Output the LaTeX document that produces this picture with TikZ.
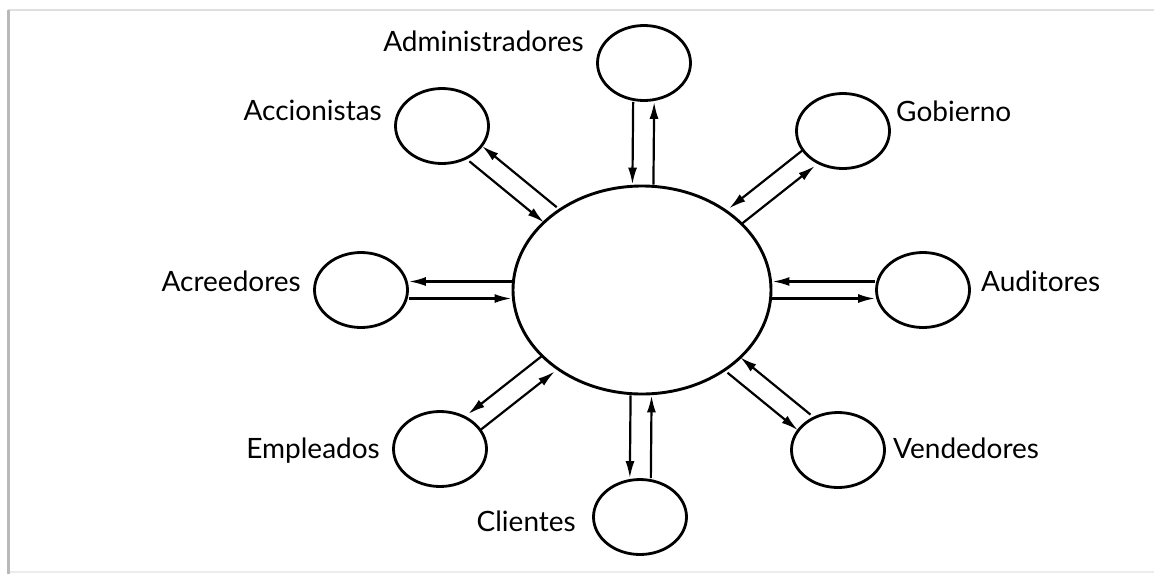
\documentclass[tikz,border=0pt]{standalone}
\usepackage{fontspec}
\setmainfont{Lato}
\usetikzlibrary{arrows.meta,shapes.geometric}
\begin{document}
\begin{tikzpicture}[x=1pt,y=-1pt,
  party/.style={ellipse,draw=black,line width=2.8pt,minimum width=93pt,minimum height=75pt,inner sep=0pt},
  hub/.style={ellipse,draw=black,line width=2.9pt,minimum width=258pt,minimum height=208pt,inner sep=0pt},
  lbl/.style={inner sep=0pt,font=\fontsize{28}{33}\selectfont,text=black},
  flow/.style={draw=black,line width=2.2pt,-{Latex[length=17pt,width=9pt]}}]
\useasboundingbox (0,0) rectangle (1154,574);
% frame
\draw[gray!25,line width=2.5pt] (8,10) -- (1154,10);
\draw[gray!15,line width=1.5pt] (8,572) -- (1154,572);
\draw[gray!55,line width=3pt] (8,10) -- (8,574);
% nodes
\node[hub] (C) at (642,290) {};
\node[party] (adm) at (644,63) {};
\node[party] (acc) at (442,126) {};
\node[party] (gob) at (843,131) {};
\node[party] (acr) at (361,290) {};
\node[party] (aud) at (923,290) {};
\node[party] (emp) at (440,449) {};
\node[party] (ven) at (838,450) {};
\node[party] (cli) at (640,517) {};
% labels
\node[lbl,anchor=base east] (tadm) at (584,51) {Administradores};
\node[lbl,anchor=base east] (tacc) at (382,120) {Accionistas};
\node[lbl,anchor=base west] (tgob) at (896,121) {Gobierno};
\node[lbl,anchor=base east] (tacr) at (301,291) {Acreedores};
\node[lbl,anchor=base west] (taud) at (981,291) {Auditores};
\node[lbl,anchor=base east] (temp) at (380,458) {Empleados};
\node[lbl,anchor=base west] (tven) at (893,458) {Vendedores};
\node[lbl,anchor=base east] (tcli) at (576,531) {Clientes};
% flows: inward (left side looking outward) and outward (right side)
\draw[flow,transform canvas={shift={(-10.5,0)}}] (adm) -- (C);
\draw[flow,transform canvas={shift={(10.5,0)}}] (C) -- (adm);
\draw[flow,transform canvas={shift={(-6.2,-7.8)}}] (gob) -- (C);
\draw[flow,transform canvas={shift={(6.2,7.8)}}] (C) -- (gob);
\draw[flow,transform canvas={shift={(0,-8.5)}}] (aud) -- (C);
\draw[flow,transform canvas={shift={(0,8.5)}}] (C) -- (aud);
\draw[flow,transform canvas={shift={(6.3,-7.8)}}] (ven) -- (C);
\draw[flow,transform canvas={shift={(-6.3,7.8)}}] (C) -- (ven);
\draw[flow,transform canvas={shift={(10.5,0)}}] (cli) -- (C);
\draw[flow,transform canvas={shift={(-10.5,0)}}] (C) -- (cli);
\draw[flow,transform canvas={shift={(6.2,7.9)}}] (emp) -- (C);
\draw[flow,transform canvas={shift={(-6.2,-7.9)}}] (C) -- (emp);
\draw[flow,transform canvas={shift={(0,8.5)}}] (acr) -- (C);
\draw[flow,transform canvas={shift={(0,-8.5)}}] (C) -- (acr);
\draw[flow,transform canvas={shift={(-6.3,7.7)}}] (acc) -- (C);
\draw[flow,transform canvas={shift={(6.3,-7.7)}}] (C) -- (acc);
\end{tikzpicture}
\end{document}
